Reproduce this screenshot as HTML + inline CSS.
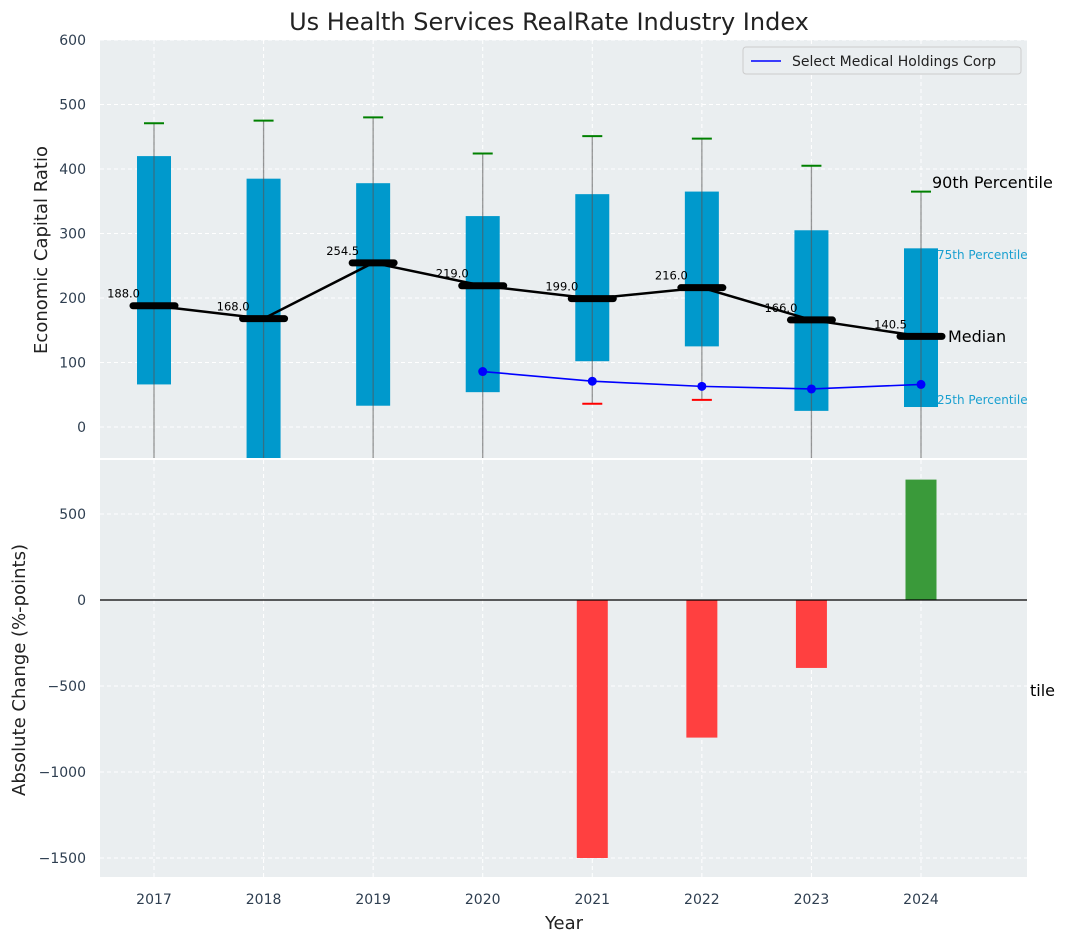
<!DOCTYPE html>
<html><head><meta charset="utf-8"><style>
body{margin:0;background:#fff;font-family:"Liberation Sans","DejaVu Sans",sans-serif;}
svg text{font-family:"DejaVu Sans","Liberation Sans",sans-serif;}
</style></head><body>
<svg id="c" width="1067" height="942" xmlns="http://www.w3.org/2000/svg"></svg>
<script>
const years=[2017,2018,2019,2020,2021,2022,2023,2024];
const p10=[-100,-100,-100,-100,36,42,-100,-100];
const p25=[66,-60,33,54,102,125,25,31];
const medians=[188,168,254.5,219,199,216,166,140.5];
const p75=[420,385,378,327,361,365,305,277];
const p90=[471,475,480,424,451,447,405,365];
const companyYears=[2020,2021,2022,2023,2024];
const companyValues=[86,71,63,59,66];
const changes=[0,0,0,0,-1500,-800,-395,700];
const topTicks=[0,100,200,300,400,500,600];
const botTicks=[-1500,-1000,-500,0,500];

const NS="http://www.w3.org/2000/svg";
const svg=document.getElementById('c');
function el(t,a,p){const e=document.createElementNS(NS,t);for(const k in a)e.setAttribute(k,a[k]);(p||svg).appendChild(e);return e;}
const L=100,R=1027;
const x=v=>154+(v-2017)*(921-154)/7;
const yT=v=>427-v*(427-40)/600;
const yB=v=>600-v*(600-514)/500;

const topG=el('g',{});


el('rect',{x:L,y:40,width:R-L,height:418,fill:'#eaeef0'},topG);
const botG=el('g',{});


el('rect',{x:L,y:460,width:R-L,height:417,fill:'#eaeef0'},botG);
const defs=el('defs',{});
const cp1=el('clipPath',{id:'ct'},defs);el('rect',{x:100,y:40,width:927,height:418},cp1);
const cp2=el('clipPath',{id:'cb'},defs);el('rect',{x:100,y:460,width:927,height:417},cp2);

years.forEach(yv=>{
 el('line',{x1:x(yv),x2:x(yv),y1:40,y2:458,stroke:'#fff','stroke-dasharray':'4,3','stroke-width':1},topG);
 el('line',{x1:x(yv),x2:x(yv),y1:460,y2:877,stroke:'#fff','stroke-dasharray':'4,3','stroke-width':1},botG);
 const t=el('text',{x:x(yv),y:904,'text-anchor':'middle','font-size':14,fill:'#2e3e50'});t.textContent=yv;
 
 
});
topTicks.forEach(v=>{
 el('line',{x1:L,x2:R,y1:yT(v),y2:yT(v),stroke:'#fff','stroke-dasharray':'4,3'},topG);
 const t=el('text',{x:86,y:yT(v)+5,'text-anchor':'end','font-size':14,fill:'#2e3e50'});t.textContent=v;
 
 
});
botTicks.forEach(v=>{
 el('line',{x1:L,x2:R,y1:yB(v),y2:yB(v),stroke:'#fff','stroke-dasharray':'4,3'},botG);
 const t=el('text',{x:86,y:yB(v)+5,'text-anchor':'end','font-size':14,fill:'#2e3e50'});t.textContent=(v<0?'\u2212'+(-v):v);
 
 
});

const gT=el('g',{'clip-path':'url(#ct)'});
years.forEach((yv,i)=>{
 const cx=x(yv);
 const b=el('rect',{x:cx-17,y:yT(p75[i]),width:34,height:yT(p25[i])-yT(p75[i]),fill:'#0099cc'},gT);
 
 
 el('line',{x1:cx,x2:cx,y1:yT(p90[i]),y2:yT(p10[i]),stroke:'#555','stroke-opacity':0.6,'stroke-width':1.3},gT);
 el('line',{x1:cx-10,x2:cx+10,y1:yT(p90[i]),y2:yT(p90[i]),stroke:'green','stroke-width':2},gT);
 el('line',{x1:cx-10,x2:cx+10,y1:yT(p10[i]),y2:yT(p10[i]),stroke:'red','stroke-width':2},gT);
});
el('polyline',{points:years.map((yv,i)=>x(yv)+','+yT(medians[i])).join(' '),fill:'none',stroke:'#000','stroke-width':2.5},gT);
years.forEach((yv,i)=>{
 const m=el('line',{x1:x(yv)-21,x2:x(yv)+21,y1:yT(medians[i]),y2:yT(medians[i]),stroke:'#000','stroke-width':7,'stroke-linecap':'round'},gT);
 
 
 const t=el('text',{x:x(yv)-14,y:yT(medians[i])-8,'text-anchor':'end','font-size':11.5,fill:'#000'});t.textContent=medians[i].toFixed(1);
 
 
});
el('polyline',{points:companyYears.map((yv,i)=>x(yv)+','+yT(companyValues[i])).join(' '),fill:'none',stroke:'#0000ff','stroke-width':1.6},gT);
companyYears.forEach((yv,i)=>{
 const c=el('circle',{cx:x(yv),cy:yT(companyValues[i]),r:4.5,fill:'#0000ff'},gT);
 
 
});
const ann=[[932,188,'90th Percentile',16,'#000'],[937,259,'75th Percentile',12,'#1aa0d0'],[948,342,'Median',16,'#000'],[937,404,'25th Percentile',12,'#1aa0d0'],[1030,696,'tile',16,'#000']];
ann.forEach(a=>{const t=el('text',{x:a[0],y:a[1],'font-size':a[3],fill:a[4]});t.textContent=a[2];
 
 });

const lg=el('g',{});


el('rect',{x:743,y:47,width:278,height:27,rx:3,fill:'#eaeef0',stroke:'#ccc'},lg);
el('line',{x1:751,x2:781,y1:61,y2:61,stroke:'#0000ff','stroke-width':1.6},lg);
const lt=el('text',{x:792,y:66,'font-size':14,fill:'#222'},lg);lt.textContent='Select Medical Holdings Corp';

const gB=el('g',{'clip-path':'url(#cb)'});
years.forEach((yv,i)=>{
 if(!changes[i])return;
 const v=changes[i];
 const r=el('rect',{x:x(yv)-15.5,y:Math.min(yB(v),yB(0)),width:31,height:Math.abs(yB(v)-yB(0)),fill:v<0?'#ff4040':'#3a9a3a'},gB);
 
 
});
el('line',{x1:L,x2:R,y1:yB(0),y2:yB(0),stroke:'#000','stroke-width':1.2},gB);

let t=el('text',{x:549,y:30,'text-anchor':'middle','font-size':24,fill:'#222'});t.textContent='Us Health Services RealRate Industry Index';


t=el('text',{x:0,y:0,'text-anchor':'middle','font-size':18,fill:'#222',transform:'translate(47,250) rotate(-90)'});t.textContent='Economic Capital Ratio';


t=el('text',{x:0,y:0,'text-anchor':'middle','font-size':18,fill:'#222',transform:'translate(25,670) rotate(-90)'});t.textContent='Absolute Change (%-points)';


t=el('text',{x:564,y:929,'text-anchor':'middle','font-size':18,fill:'#222'});t.textContent='Year';


</script>
</body></html>
